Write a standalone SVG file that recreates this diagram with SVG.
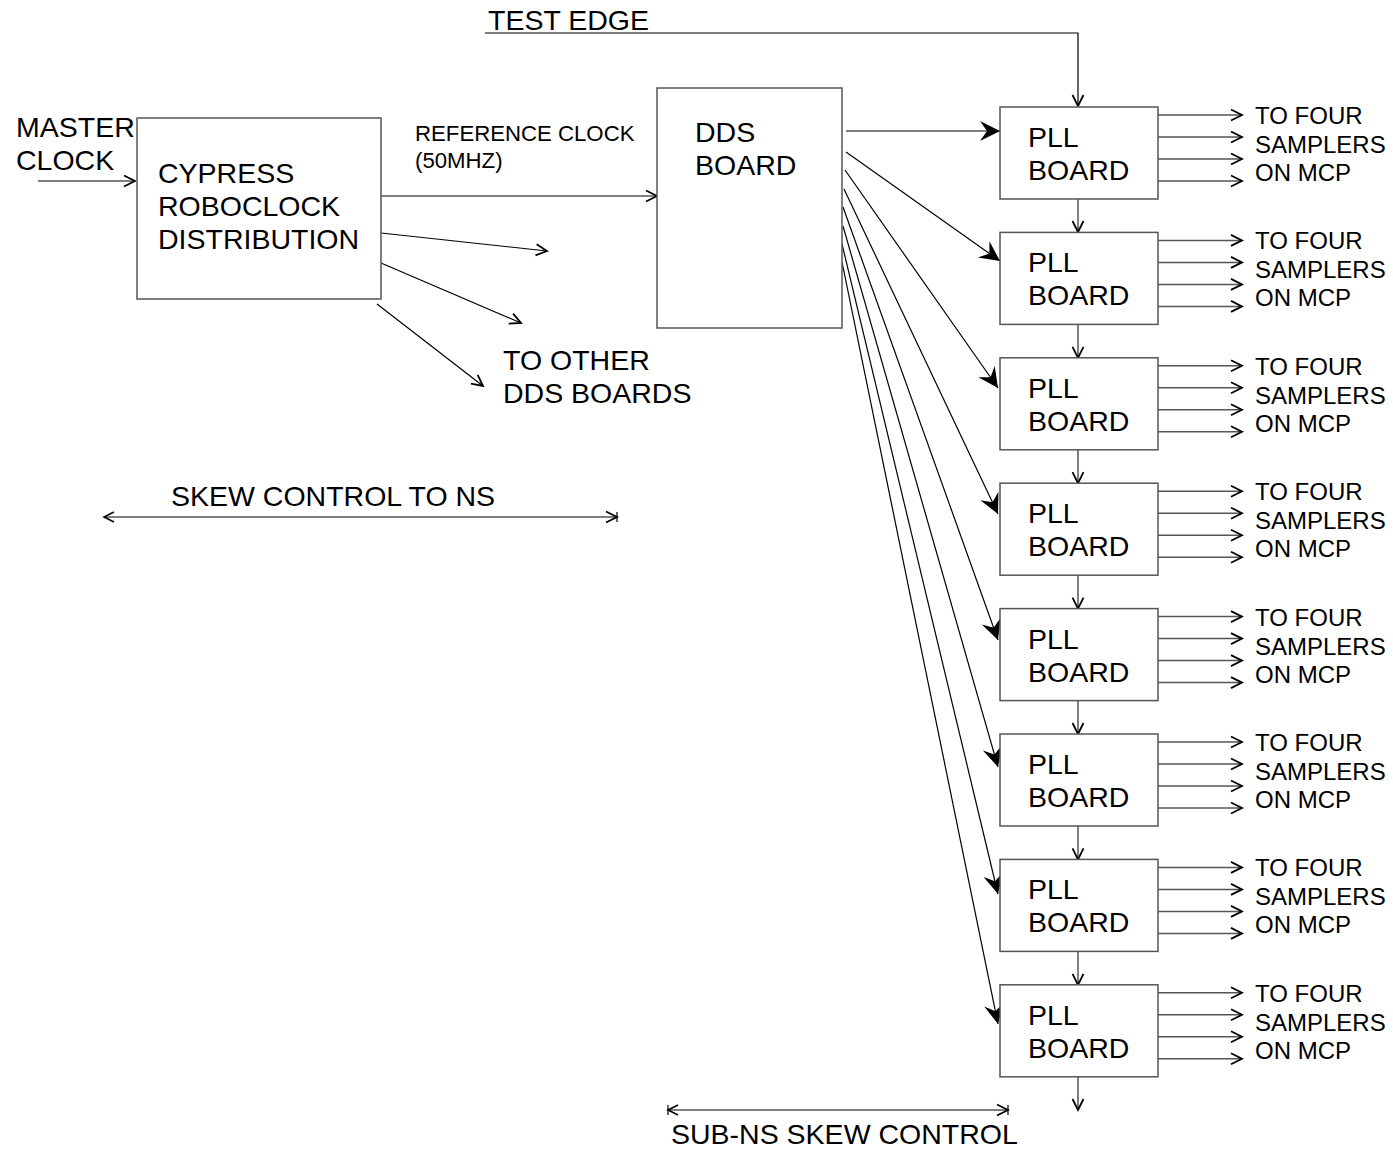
<svg xmlns="http://www.w3.org/2000/svg" width="1393" height="1149" viewBox="0 0 1393 1149">
<style>
text{font-family:"Liberation Sans",Arial,sans-serif;fill:#000}
.t28{font-size:28.5px}
.t24{font-size:24px}
.t21{font-size:22.2px}
.box{fill:#fff;stroke:#555;stroke-width:1.5}
.ln{stroke:#000;stroke-width:1.2;fill:none}
.gl{stroke:#555;stroke-width:1.5;fill:none}
.open{marker-end:url(#va)}
.fill{marker-end:url(#fa)}
</style>
<defs>
<marker id="va" markerUnits="userSpaceOnUse" markerWidth="14" markerHeight="14" viewBox="-12 -7 14 14" refX="0" refY="0" orient="auto">
<path d="M-11,-5.5 L0,0 L-11,5.5" fill="none" stroke="#000" stroke-width="1.8"/>
</marker>
<marker id="vs" markerUnits="userSpaceOnUse" markerWidth="14" markerHeight="14" viewBox="-12 -7 14 14" refX="0" refY="0" orient="auto-start-reverse">
<path d="M-10,-5 L0,0 L-10,5" fill="none" stroke="#000" stroke-width="1.6"/>
</marker>
<marker id="fa" markerUnits="userSpaceOnUse" markerWidth="24" markerHeight="24" viewBox="-22 -12 24 24" refX="0" refY="0" orient="auto">
<path d="M0,0 L-20,-10 L-13,0 L-20,10 Z" fill="#000"/>
</marker>
</defs>

<g id="connectors">
<line class="ln open" x1="38" y1="181" x2="135" y2="181"/>
<line class="ln open" x1="381" y1="196" x2="657" y2="196"/>
<line class="ln open" x1="381" y1="233" x2="547" y2="251"/>
<line class="ln open" x1="381" y1="263" x2="521" y2="323"/>
<line class="ln open" x1="377" y1="304" x2="483" y2="386"/>
<polyline class="ln open" points="485,33 1078,33 1078,106"/>
<line class="ln fill" x1="846" y1="131" x2="1000" y2="131"/>
<line class="ln fill" x1="846" y1="152" x2="1000" y2="261"/>
<line class="ln fill" x1="845" y1="170" x2="998" y2="388"/>
<line class="ln fill" x1="844" y1="189" x2="998" y2="514"/>
<line class="ln fill" x1="843" y1="207" x2="998" y2="640"/>
<line class="ln fill" x1="843" y1="226" x2="998" y2="767"/>
<line class="ln fill" x1="842" y1="244" x2="998" y2="894"/>
<line class="ln fill" x1="842" y1="262" x2="998" y2="1024"/>
<line class="gl open" x1="1078" y1="199" x2="1078" y2="232"/>
<line class="gl open" x1="1078" y1="324.4" x2="1078" y2="357.8"/>
<line class="gl open" x1="1078" y1="449.8" x2="1078" y2="483.2"/>
<line class="gl open" x1="1078" y1="575.2" x2="1078" y2="608.6"/>
<line class="gl open" x1="1078" y1="700.6" x2="1078" y2="734"/>
<line class="gl open" x1="1078" y1="826" x2="1078" y2="859.4"/>
<line class="gl open" x1="1078" y1="951.4" x2="1078" y2="984.8"/>
<line class="gl open" x1="1078" y1="1076.8" x2="1078" y2="1110"/>
<line class="ln" x1="104" y1="517" x2="617" y2="517" marker-start="url(#vs)" marker-end="url(#va)"/>
<line class="ln" x1="617" y1="512" x2="617" y2="522"/>
<line class="ln" x1="668" y1="1110" x2="1008" y2="1110" marker-start="url(#vs)" marker-end="url(#va)"/>
<line class="ln" x1="1008" y1="1105" x2="1008" y2="1115"/>
<line class="ln" x1="668" y1="1105" x2="668" y2="1115"/>
</g>

<g id="outputs">
<g transform="translate(0,107)"><line class="gl open" x1="1158" y1="8" x2="1242" y2="8"/><line class="gl open" x1="1158" y1="30" x2="1242" y2="30"/><line class="gl open" x1="1158" y1="52" x2="1242" y2="52"/><line class="gl open" x1="1158" y1="74" x2="1242" y2="74"/></g>
<g transform="translate(0,232.4)"><line class="gl open" x1="1158" y1="8" x2="1242" y2="8"/><line class="gl open" x1="1158" y1="30" x2="1242" y2="30"/><line class="gl open" x1="1158" y1="52" x2="1242" y2="52"/><line class="gl open" x1="1158" y1="74" x2="1242" y2="74"/></g>
<g transform="translate(0,357.8)"><line class="gl open" x1="1158" y1="8" x2="1242" y2="8"/><line class="gl open" x1="1158" y1="30" x2="1242" y2="30"/><line class="gl open" x1="1158" y1="52" x2="1242" y2="52"/><line class="gl open" x1="1158" y1="74" x2="1242" y2="74"/></g>
<g transform="translate(0,483.2)"><line class="gl open" x1="1158" y1="8" x2="1242" y2="8"/><line class="gl open" x1="1158" y1="30" x2="1242" y2="30"/><line class="gl open" x1="1158" y1="52" x2="1242" y2="52"/><line class="gl open" x1="1158" y1="74" x2="1242" y2="74"/></g>
<g transform="translate(0,608.6)"><line class="gl open" x1="1158" y1="8" x2="1242" y2="8"/><line class="gl open" x1="1158" y1="30" x2="1242" y2="30"/><line class="gl open" x1="1158" y1="52" x2="1242" y2="52"/><line class="gl open" x1="1158" y1="74" x2="1242" y2="74"/></g>
<g transform="translate(0,734)"><line class="gl open" x1="1158" y1="8" x2="1242" y2="8"/><line class="gl open" x1="1158" y1="30" x2="1242" y2="30"/><line class="gl open" x1="1158" y1="52" x2="1242" y2="52"/><line class="gl open" x1="1158" y1="74" x2="1242" y2="74"/></g>
<g transform="translate(0,859.4)"><line class="gl open" x1="1158" y1="8" x2="1242" y2="8"/><line class="gl open" x1="1158" y1="30" x2="1242" y2="30"/><line class="gl open" x1="1158" y1="52" x2="1242" y2="52"/><line class="gl open" x1="1158" y1="74" x2="1242" y2="74"/></g>
<g transform="translate(0,984.8)"><line class="gl open" x1="1158" y1="8" x2="1242" y2="8"/><line class="gl open" x1="1158" y1="30" x2="1242" y2="30"/><line class="gl open" x1="1158" y1="52" x2="1242" y2="52"/><line class="gl open" x1="1158" y1="74" x2="1242" y2="74"/></g>
</g>

<g id="cypress">
<rect class="box" x="137" y="118" width="244" height="181"/>
<text class="t28" x="158" y="183">CYPRESS</text>
<text class="t28" x="158" y="216">ROBOCLOCK</text>
<text class="t28" x="158" y="249">DISTRIBUTION</text>
</g>

<g id="dds">
<rect class="box" x="657" y="88" width="185" height="240"/>
<text class="t28" x="695" y="142">DDS</text>
<text class="t28" x="695" y="175">BOARD</text>
</g>

<g id="pll1" transform="translate(0,107)"><rect class="box" x="1000" y="0" width="158" height="92"/><text class="t28" x="1028" y="40">PLL</text><text class="t28" x="1028" y="73">BOARD</text><text class="t24" x="1255" y="17">TO FOUR</text><text class="t24" x="1255" y="46">SAMPLERS</text><text class="t24" x="1255" y="74">ON MCP</text></g>
<g id="pll2" transform="translate(0,232.4)"><rect class="box" x="1000" y="0" width="158" height="92"/><text class="t28" x="1028" y="40">PLL</text><text class="t28" x="1028" y="73">BOARD</text><text class="t24" x="1255" y="17">TO FOUR</text><text class="t24" x="1255" y="46">SAMPLERS</text><text class="t24" x="1255" y="74">ON MCP</text></g>
<g id="pll3" transform="translate(0,357.8)"><rect class="box" x="1000" y="0" width="158" height="92"/><text class="t28" x="1028" y="40">PLL</text><text class="t28" x="1028" y="73">BOARD</text><text class="t24" x="1255" y="17">TO FOUR</text><text class="t24" x="1255" y="46">SAMPLERS</text><text class="t24" x="1255" y="74">ON MCP</text></g>
<g id="pll4" transform="translate(0,483.2)"><rect class="box" x="1000" y="0" width="158" height="92"/><text class="t28" x="1028" y="40">PLL</text><text class="t28" x="1028" y="73">BOARD</text><text class="t24" x="1255" y="17">TO FOUR</text><text class="t24" x="1255" y="46">SAMPLERS</text><text class="t24" x="1255" y="74">ON MCP</text></g>
<g id="pll5" transform="translate(0,608.6)"><rect class="box" x="1000" y="0" width="158" height="92"/><text class="t28" x="1028" y="40">PLL</text><text class="t28" x="1028" y="73">BOARD</text><text class="t24" x="1255" y="17">TO FOUR</text><text class="t24" x="1255" y="46">SAMPLERS</text><text class="t24" x="1255" y="74">ON MCP</text></g>
<g id="pll6" transform="translate(0,734)"><rect class="box" x="1000" y="0" width="158" height="92"/><text class="t28" x="1028" y="40">PLL</text><text class="t28" x="1028" y="73">BOARD</text><text class="t24" x="1255" y="17">TO FOUR</text><text class="t24" x="1255" y="46">SAMPLERS</text><text class="t24" x="1255" y="74">ON MCP</text></g>
<g id="pll7" transform="translate(0,859.4)"><rect class="box" x="1000" y="0" width="158" height="92"/><text class="t28" x="1028" y="40">PLL</text><text class="t28" x="1028" y="73">BOARD</text><text class="t24" x="1255" y="17">TO FOUR</text><text class="t24" x="1255" y="46">SAMPLERS</text><text class="t24" x="1255" y="74">ON MCP</text></g>
<g id="pll8" transform="translate(0,984.8)"><rect class="box" x="1000" y="0" width="158" height="92"/><text class="t28" x="1028" y="40">PLL</text><text class="t28" x="1028" y="73">BOARD</text><text class="t24" x="1255" y="17">TO FOUR</text><text class="t24" x="1255" y="46">SAMPLERS</text><text class="t24" x="1255" y="74">ON MCP</text></g>

<g id="labels">
<text class="t28" x="16" y="137">MASTER</text>
<text class="t28" x="16" y="170">CLOCK</text>
<text class="t21" x="415" y="141">REFERENCE CLOCK</text>
<text class="t21" x="415" y="168">(50MHZ)</text>
<text class="t28" x="503" y="370">TO OTHER</text>
<text class="t28" x="503" y="403">DDS BOARDS</text>
<text class="t28" x="488" y="30">TEST EDGE</text>
<text class="t28" x="171" y="506">SKEW CONTROL TO NS</text>
<text class="t28" x="671" y="1144">SUB-NS SKEW CONTROL</text>
</g>
</svg>
